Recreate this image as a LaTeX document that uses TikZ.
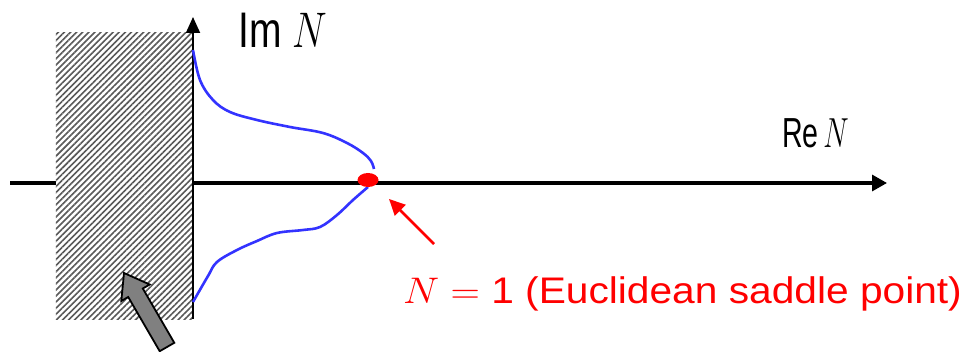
\RequirePackage{fix-cm}
\documentclass[tikz,border=0pt]{standalone}
\usepackage{fontspec}
\setmainfont{Liberation Sans}
\usetikzlibrary{arrows.meta,shapes.geometric,patterns.meta}

\begin{document}
\begin{tikzpicture}[x=1pt, y=-1pt]
    \tikzstyle{axis}=[black, line width=3.2pt, -{Triangle[length=15pt, width=16pt]}];
    \tikzstyle{vaxis}=[black, line width=1.8pt, -{Triangle[length=16pt, width=14pt]}];
    \tikzstyle{contour}=[blue!80, line width=2.6pt];
    \tikzstyle{pointer}=[red, line width=2.6pt, -{Triangle[length=16pt, width=15pt]}];
    \tikzstyle{axlabel}=[inner sep=0pt, anchor=base west];
    \tikzstyle{wallbox}=[inner sep=0pt, preaction={fill=white}, pattern={Lines[angle=45, distance=4.3pt, line width=1.6pt]}, pattern color=black!65];
    \useasboundingbox (0,0) rectangle (965,352);

    % axes
    \coordinate (xl) at (10,183);
    \coordinate (xr) at (887,183);
    \draw[axis] (xl) -- (xr);

    % excluded region
    \node[wallbox, minimum width=138pt, minimum height=287pt, anchor=north west] (wall) at (55,32) {};

    \coordinate (yb) at (193,319);
    \coordinate (yt) at (193,17);
    \draw[vaxis] (yb) -- (yt);

    \node[axlabel, xscale=0.78, font=\fontsize{50}{50}\selectfont] (imlabel) at (238,48) {Im\;$N$};
    \node[axlabel, xscale=0.68, font=\fontsize{42}{42}\selectfont] (relabel) at (782,148) {Re\,$N$};

    % contour
    \draw[contour] plot[smooth, tension=0.6] coordinates {(193,50) (200,80) (213,100) (230,112) (257,120) (290,127) (323,133) (347,143) (363,153) (371,161) (374,169)};
    \draw[contour] plot[smooth, tension=0.6] coordinates {(193,302) (208,276) (217,262) (237,250) (257,241) (277,233) (303,230) (320,227) (337,215) (353,200) (368,187)};

    % saddle point
    \node[ellipse, fill=red, minimum width=21pt, minimum height=14pt, inner sep=0pt] (saddle) at (368,180) {};
    \node[anchor=base west, text=red, inner sep=0pt, xscale=1.1, font=\fontsize{37}{40}\selectfont] (saddletext) at (403,303) {$N = \mbox{1}$ (Euclidean saddle point)};
    \coordinate (ptrtail) at (434,244);
    \coordinate (ptrtip) at (389,199);
    \draw[pointer] (ptrtail) -- (ptrtip);

    % big arrow
    \draw[fill=black!50, line width=1.8pt, line join=miter] (124,273) -- (149.7,284.5) -- (142.8,288.5) -- (174.3,342.8) -- (159.7,351.2) -- (128.2,297) -- (121.3,301) -- cycle;
\end{tikzpicture}
\end{document}
